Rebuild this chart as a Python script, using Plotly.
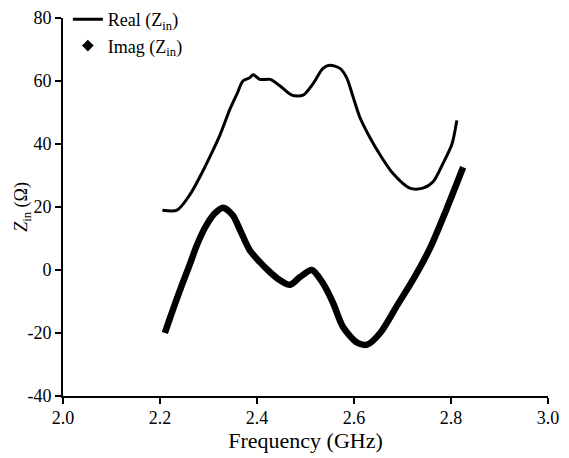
import plotly.graph_objects as go

real_f = [2.205, 2.235, 2.262, 2.282, 2.303, 2.324, 2.344, 2.359, 2.371, 2.385, 2.392, 2.406, 2.427,
          2.447, 2.472, 2.495, 2.515, 2.536, 2.55, 2.571, 2.585, 2.598, 2.612, 2.633, 2.654, 2.68,
          2.715, 2.742, 2.763, 2.784, 2.802, 2.812]
real_z = [19, 19, 24, 29.5, 36, 43, 51, 56, 60, 61, 62, 60.5, 60.5,
          58.5, 55.5, 55.5, 59, 64, 65, 64, 61, 55, 48.5, 42, 36.5, 30.7,
          26, 26, 28, 34, 40, 47.5]

imag_f = [2.21, 2.22, 2.235, 2.247, 2.262, 2.275, 2.293, 2.313, 2.33, 2.35, 2.365, 2.385, 2.406,
          2.427, 2.447, 2.468, 2.489, 2.513, 2.536, 2.557, 2.577, 2.606, 2.627, 2.654, 2.69,
          2.722, 2.757, 2.79, 2.825]
imag_z = [-20, -15.5, -9, -4, 2, 7.5, 13.5, 18, 19.8, 17.4, 12.7, 6.3, 2.5,
          -0.7, -3.2, -4.7, -2.2, 0, -4.2, -10.5, -18, -23, -23.7, -20, -11,
          -3, 7, 19, 32.6]

x_ticks = [2.0, 2.2, 2.4, 2.6, 2.8, 3.0]
y_ticks = [-40, -20, 0, 20, 40, 60, 80]

FONT = "Liberation Serif"

fig = go.Figure()
fig.add_trace(go.Scatter(x=real_f, y=real_z, mode="lines", name="Real (Z<sub>in</sub>)",
                         line=dict(color="black", width=3, shape="spline", smoothing=0.8)))
fig.add_trace(go.Scatter(x=imag_f, y=imag_z, mode="lines", showlegend=False,
                         line=dict(color="black", width=6.5, shape="spline", smoothing=0.8)))
fig.add_trace(go.Scatter(x=[None], y=[None], mode="markers", name="Imag (Z<sub>in</sub>)",
                         marker=dict(symbol="diamond", color="black", size=9)))

fig.update_layout(
    width=569, height=458,
    margin=dict(l=63, r=21, t=18, b=62, autoexpand=False),
    paper_bgcolor="white", plot_bgcolor="white",
    font=dict(family=FONT, size=18, color="black"),
    showlegend=True,
    legend=dict(x=0.01, y=1.045, xanchor="left", yanchor="top", bgcolor="rgba(0,0,0,0)",
                font=dict(size=18), tracegroupgap=0, itemwidth=30),
    xaxis=dict(range=[2.0, 3.0], tickvals=x_ticks, ticktext=[f"{v:.1f}" for v in x_ticks],
               automargin=True, ticklabelstandoff=-2,
               showline=True, linecolor="black", linewidth=2, ticks="outside", ticklen=6,
               tickwidth=2, tickcolor="black", showgrid=False, zeroline=False,
               title=dict(text="Frequency (GHz)", standoff=6)),
    yaxis=dict(range=[-40, 80], tickvals=y_ticks, ticktext=[str(v) for v in y_ticks],
               automargin=False,
               showline=True, linecolor="black", linewidth=2, ticks="outside", ticklen=6,
               tickwidth=2, tickcolor="black", showgrid=False, zeroline=False),
    annotations=[dict(text="<i>Z</i><sub>in</sub> (Ω)", xref="paper", yref="paper",
                      x=-0.085, y=0.5, xanchor="center", yanchor="middle", textangle=-90,
                      showarrow=False, font=dict(size=18))],
)

fig.write_html("out.html")
